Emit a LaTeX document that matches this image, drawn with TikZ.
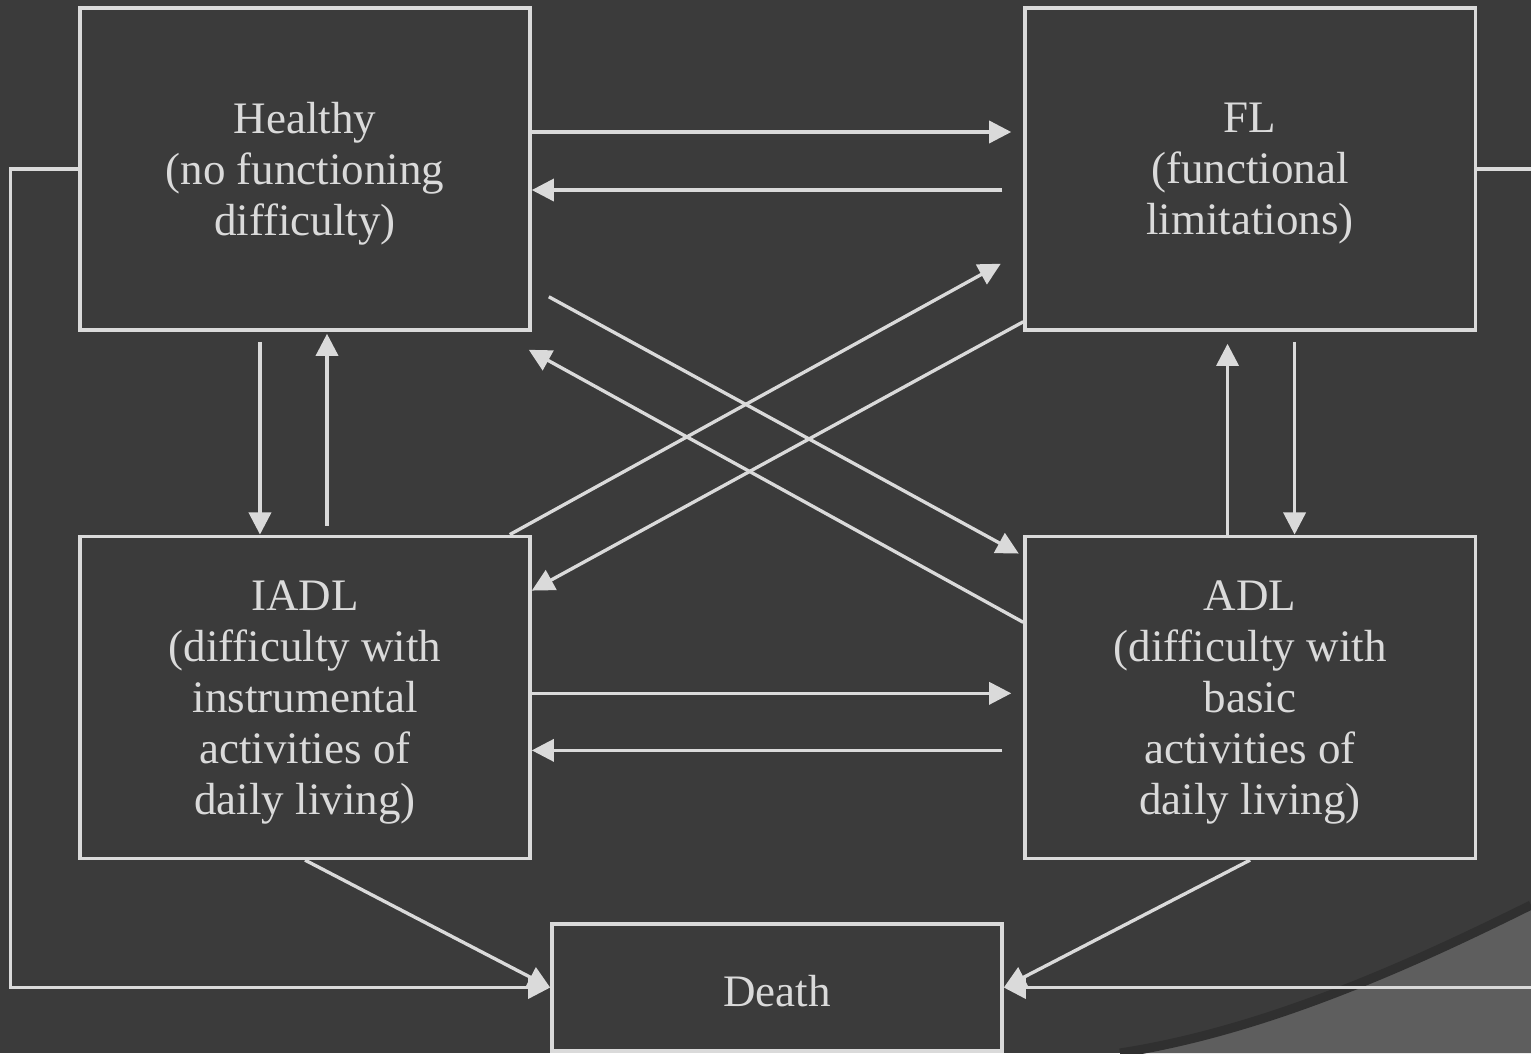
\documentclass[tikz,border=0pt]{standalone}
\usepackage{fontspec}
\setmainfont{Liberation Serif}
\definecolor{slidebg}{RGB}{59, 59, 59}
\definecolor{chalk}{RGB}{218, 218, 218}
\definecolor{swooshfill}{RGB}{94, 94, 94}
\definecolor{swooshedge}{RGB}{48, 48, 48}
\usetikzlibrary{shapes,arrows.meta}
\tikzstyle{state} = [rectangle, draw=chalk, text=chalk, line width=0.95pt,
    minimum width=4.5cm, minimum height=3.22cm, inner sep=0pt, align=center,
    font=\fontsize{12.8}{14.5}\selectfont, text depth=0pt]
\tikzstyle{line} = [draw=chalk, line width=0.95pt,
    -{Triangle[length=6.3pt, width=6.3pt]}]

\begin{document}
\begin{tikzpicture}[x=0.01cm, y=-0.01cm, node distance=9.445cm]
  \useasboundingbox (0,0) rectangle (1531,1053);
  \fill [slidebg] (0,0) rectangle (1531,1053);
  % slide decoration, bottom right
  \fill [swooshfill] (1120,1053) .. controls (1270,1030) and (1420,960) .. (1531,905)
    -- (1531,1053) -- cycle;
  \draw [swooshedge, line width=2.6pt] (1120,1053) .. controls (1270,1030) and (1420,960) .. (1531,905);
  \node [state] (healthy) at (305,169) {Healthy\\(no functioning\\difficulty)};
  \node [state, right of=healthy] (fl) {FL\\(functional\\limitations)};
  \node [state, below of=healthy, node distance=5.28cm] (iadl)
    {IADL\\(difficulty with\\instrumental\\activities of\\daily living)};
  \node [state, right of=iadl] (adl)
    {ADL\\(difficulty with\\basic\\activities of\\daily living)};
  \node [state, minimum height=1.27cm, text height=10.8pt] (death) at (777,987.5) {Death};
  % horizontal pairs
  \path [line] ([yshift=0.37cm]healthy.east) -- ([xshift=-0.12cm,yshift=0.37cm]fl.west);
  \path [line] ([xshift=-0.21cm,yshift=-0.21cm]fl.west) -- ([yshift=-0.21cm]healthy.east);
  \path [line] ([yshift=0.04cm]iadl.east) -- ([xshift=-0.12cm,yshift=0.04cm]adl.west);
  \path [line] ([xshift=-0.21cm,yshift=-0.53cm]adl.west) -- ([yshift=-0.53cm]iadl.east);
  % vertical pairs
  \path [line] ([xshift=-0.45cm,yshift=-0.1cm]healthy.south) -- ([xshift=-0.45cm]iadl.north);
  \path [line] ([xshift=0.22cm,yshift=0.09cm]iadl.north) -- ([xshift=0.22cm,yshift=-0.02cm]healthy.south);
  \path [line] ([xshift=0.445cm,yshift=-0.1cm]fl.south) -- ([xshift=0.445cm]adl.north);
  \path [line] ([xshift=-0.225cm]adl.north) -- ([xshift=-0.225cm,yshift=-0.12cm]fl.south);
  % diagonals
  \path [line] ([xshift=0.17cm,yshift=0.35cm]healthy.south east) -- ([xshift=-0.045cm,yshift=-0.19cm]adl.north west);
  \path [line] ([yshift=0.75cm]adl.west) -- ([xshift=-0.03cm,yshift=-0.18cm]healthy.south east);
  \path [line] ([xshift=-0.22cm]iadl.north east) -- ([xshift=-0.225cm,yshift=0.68cm]fl.south west);
  \path [line] ([yshift=0.1cm]fl.south west) -- ([yshift=-0.56cm]iadl.north east);
  % to death
  \path [line] (iadl.south) -- (death.west);
  \path [line] (adl.south) -- (death.east);
  \path [line] (healthy.west) -- ++(-68,0) |- (death.west);
  \path [line] (fl.east) -- ++(100,0) |- (death.east);
\end{tikzpicture}
\end{document}
